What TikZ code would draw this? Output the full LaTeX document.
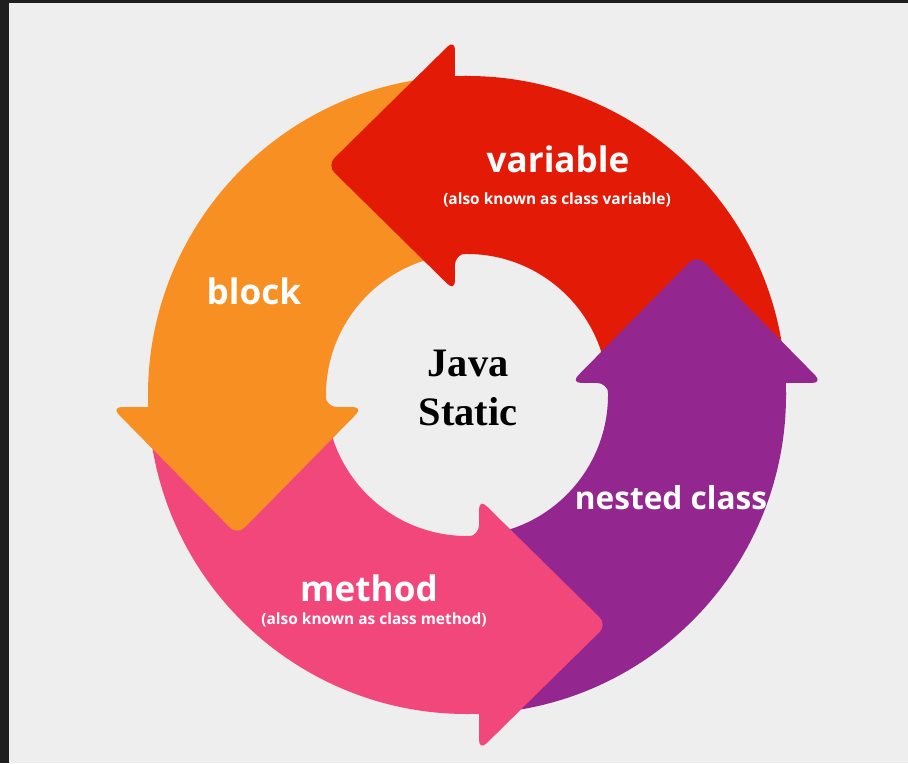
\documentclass[tikz,border=0pt]{standalone}
\usepackage{fontspec}
\setmainfont{Liberation Serif}
\newfontfamily\labelfont{Open Sans}
\usetikzlibrary{calc}

\definecolor{framegray}{HTML}{1F1F1F}
\definecolor{paper}{HTML}{EEEEEE}
\definecolor{varred}{HTML}{E31B06}
\definecolor{blockorange}{HTML}{F88F22}
\definecolor{methodpink}{HTML}{F2477A}
\definecolor{nestedpurple}{HTML}{93278F}

\begin{document}
\begin{tikzpicture}
		[x=0.02cm,y=0.02cm,
		part label/.style={text=white,anchor=base,font=\labelfont\bfseries\fontsize{20}{24}\selectfont},
		part note/.style={text=white,anchor=base,font=\labelfont\bfseries\fontsize{8.8}{10}\selectfont}]
		% frame and paper
		\fill[framegray] (0,0) rectangle (908,763);
		\fill[paper] (9,0) rectangle (908,760);
		\coordinate (c) at (467,368);
		
		% ring pieces
		\fill[varred] ([shift={(c)}]3:319) arc[start angle=3, end angle=93, radius=319] -- ([shift={(c)}]93:141) arc[start angle=93, end angle=3, radius=141] -- cycle;
		\fill[blockorange] ([shift={(c)}]93:319) arc[start angle=93, end angle=183, radius=319] -- ([shift={(c)}]183:141) arc[start angle=183, end angle=93, radius=141] -- cycle;
		\fill[methodpink] ([shift={(c)}]183:319) arc[start angle=183, end angle=273, radius=319] -- ([shift={(c)}]273:141) arc[start angle=273, end angle=183, radius=141] -- cycle;
		\fill[nestedpurple] ([shift={(c)}]273:319) arc[start angle=273, end angle=363, radius=319] -- ([shift={(c)}]363:141) arc[start angle=363, end angle=273, radius=141] -- cycle;
		
		% heads, each over the start of the next piece
		\fill[varred] ([shift={(c)}]90:319) arc[start angle=90, end angle=92.16, radius=319]
		[rounded corners=6pt] -- ($(c)+(93:230)+(90:126)$) -- ($(c)+(93:230)+(180:128)$) -- ($(c)+(93:230)+(270:126)$) -- ($(c)+(93:230)+(270:89)$)
		[sharp corners] arc[start angle=94.9, end angle=90, radius=141] -- cycle;
		\fill[blockorange] ([shift={(c)}]180:319) arc[start angle=180, end angle=182.16, radius=319]
		[rounded corners=6pt] -- ($(c)+(183:230)+(180:126)$) -- ($(c)+(183:230)+(270:128)$) -- ($(c)+(183:230)+(0:126)$) -- ($(c)+(183:230)+(0:89)$)
		[sharp corners] arc[start angle=184.9, end angle=180, radius=141] -- cycle;
		\fill[methodpink] ([shift={(c)}]270:319) arc[start angle=270, end angle=272.16, radius=319]
		[rounded corners=6pt] -- ($(c)+(273:230)+(270:126)$) -- ($(c)+(273:230)+(0:128)$) -- ($(c)+(273:230)+(90:126)$) -- ($(c)+(273:230)+(90:89)$)
		[sharp corners] arc[start angle=274.9, end angle=270, radius=141] -- cycle;
		\fill[nestedpurple] ([shift={(c)}]0:319) arc[start angle=0, end angle=2.16, radius=319]
		[rounded corners=6pt] -- ($(c)+(3:230)+(0:126)$) -- ($(c)+(3:230)+(90:128)$) -- ($(c)+(3:230)+(180:126)$) -- ($(c)+(3:230)+(180:89)$)
		[sharp corners] arc[start angle=4.9, end angle=0, radius=141] -- cycle;
		
		\node[part label] (variable) at (558,590) {variable};
		\node[part note] (variable note) at (557,558) {(also known as class variable)};
		\node[part label] (block) at (254,458) {block};
		\node[part label] (method) at (369,161) {method};
		\node[part note] (method note) at (374,138) {(also known as class method)};
		\node[part label,font=\labelfont\bfseries\fontsize{18}{22}\selectfont] (nested) at (671,253) {nested class};
		
		\node[font=\bfseries\fontsize{23}{28}\selectfont,align=center] (java) at (468,375) {Java\\Static};
		
\end{tikzpicture}
\end{document}
